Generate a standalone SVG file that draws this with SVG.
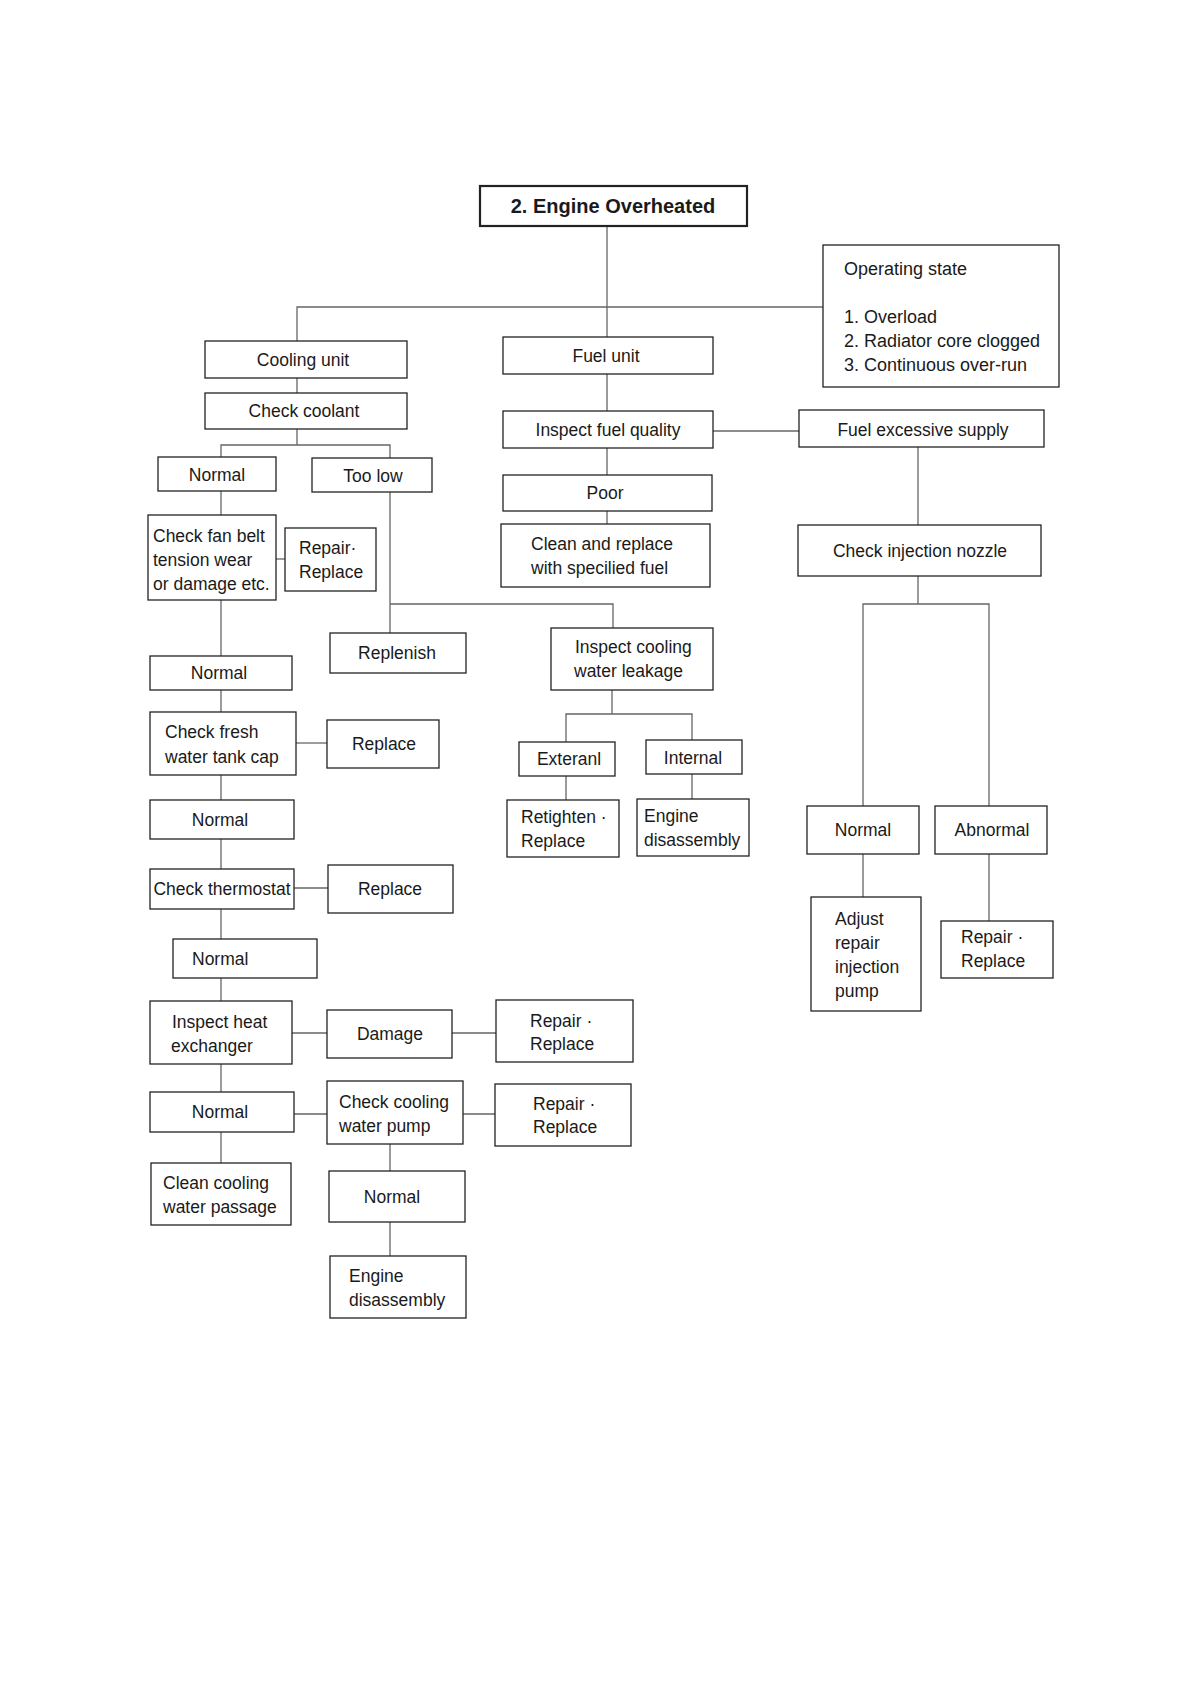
<svg xmlns="http://www.w3.org/2000/svg" width="1190" height="1682" viewBox="0 0 1190 1682">
<style>
rect{fill:#fff;stroke:#222;stroke-width:1.3}
.title rect{stroke-width:2.2}
text{font-family:"Liberation Sans",Arial,Helvetica,sans-serif;font-size:17.5px;fill:#1a1a1a}
.c{text-anchor:middle}
.t{font-size:20px;font-weight:bold}
.op{font-size:18px}
#connectors path{fill:none;stroke:#666;stroke-width:1.3}
</style>
<rect x="0" y="0" width="1190" height="1682" style="fill:#fff;stroke:none"/>
<g id="connectors">
<path d="M607 226V337"/>
<path d="M297 341V307H823"/>
<path d="M297 378V393"/>
<path d="M297 429V445M221 457V445H390V458"/>
<path d="M221 491V515"/>
<path d="M276 559H285"/>
<path d="M390 492V633M390 604H613V628"/>
<path d="M221 600V656"/>
<path d="M221 690V712"/>
<path d="M296 743H327"/>
<path d="M221 775V800"/>
<path d="M221 839V869"/>
<path d="M294 888H328"/>
<path d="M221 909V939"/>
<path d="M221 978V1001"/>
<path d="M292 1033H327M452 1033H496"/>
<path d="M221 1064V1092"/>
<path d="M294 1114H327M463 1114H495"/>
<path d="M221 1132V1163"/>
<path d="M390 1144V1171M390 1222V1256"/>
<path d="M607 374V411M607 448V475M607 511V524"/>
<path d="M713 431H799"/>
<path d="M918 447V525"/>
<path d="M918 576V604M863 806V604H989V806"/>
<path d="M863 854V897M989 854V921"/>
<path d="M612 690V714M566 742V714H692V740"/>
<path d="M566 776V800M692 774V799"/>
</g>
<g id="title" class="title"><rect x="480" y="186" width="267" height="40"/><text class="c t" x="613" y="213">2. Engine Overheated</text></g>
<g id="operating"><rect x="823" y="245" width="236" height="142"/><text class="op" x="844" y="275">Operating state</text><text class="op" x="844" y="323">1. Overload</text><text class="op" x="844" y="347">2. Radiator core clogged</text><text class="op" x="844" y="371">3. Continuous over-run</text></g>
<g id="cooling-unit"><rect x="205" y="341" width="202" height="37"/><text class="c" x="303" y="366">Cooling unit</text></g>
<g id="check-coolant"><rect x="205" y="393" width="202" height="36"/><text class="c" x="304" y="417">Check coolant</text></g>
<g id="normal1"><rect x="158" y="457" width="118" height="34"/><text class="c" x="217" y="481">Normal</text></g>
<g id="too-low"><rect x="312" y="458" width="120" height="34"/><text class="c" x="373" y="482">Too low</text></g>
<g id="fan-belt"><rect x="148" y="515" width="128" height="85"/><text x="153" y="542">Check fan belt</text><text x="153" y="566">tension wear</text><text x="153" y="590">or damage etc.</text></g>
<g id="repair1"><rect x="285" y="528" width="91" height="63"/><text x="299" y="554">Repair·</text><text x="299" y="578">Replace</text></g>
<g id="replenish"><rect x="330" y="633" width="136" height="40"/><text class="c" x="397" y="659">Replenish</text></g>
<g id="normal2"><rect x="150" y="656" width="142" height="34"/><text class="c" x="219" y="679">Normal</text></g>
<g id="tank-cap"><rect x="150" y="712" width="146" height="63"/><text x="165" y="738">Check fresh</text><text x="165" y="763">water tank cap</text></g>
<g id="replace1"><rect x="327" y="720" width="112" height="48"/><text class="c" x="384" y="750">Replace</text></g>
<g id="normal3"><rect x="150" y="800" width="144" height="39"/><text class="c" x="220" y="826">Normal</text></g>
<g id="thermostat"><rect x="150" y="869" width="144" height="40"/><text class="c" x="222" y="895">Check thermostat</text></g>
<g id="replace2"><rect x="328" y="865" width="125" height="48"/><text class="c" x="390" y="895">Replace</text></g>
<g id="normal4"><rect x="173" y="939" width="144" height="39"/><text x="192" y="965">Normal</text></g>
<g id="heat-exchanger"><rect x="150" y="1001" width="142" height="63"/><text x="172" y="1028">Inspect heat</text><text x="171" y="1052">exchanger</text></g>
<g id="damage"><rect x="327" y="1010" width="125" height="48"/><text class="c" x="390" y="1040">Damage</text></g>
<g id="repair2"><rect x="496" y="1000" width="137" height="62"/><text x="530" y="1027">Repair  ·</text><text x="530" y="1050">Replace</text></g>
<g id="normal5"><rect x="150" y="1092" width="144" height="40"/><text class="c" x="220" y="1118">Normal</text></g>
<g id="water-pump"><rect x="327" y="1081" width="136" height="63"/><text x="339" y="1108">Check cooling</text><text x="339" y="1132">water pump</text></g>
<g id="repair3"><rect x="495" y="1084" width="136" height="62"/><text x="533" y="1110">Repair ·</text><text x="533" y="1133">Replace</text></g>
<g id="clean-passage"><rect x="151" y="1163" width="140" height="62"/><text x="163" y="1189">Clean cooling</text><text x="163" y="1213">water passage</text></g>
<g id="normal6"><rect x="329" y="1171" width="136" height="51"/><text class="c" x="392" y="1203">Normal</text></g>
<g id="engine-dis2"><rect x="330" y="1256" width="136" height="62"/><text x="349" y="1282">Engine</text><text x="349" y="1306">disassembly</text></g>
<g id="fuel-unit"><rect x="503" y="337" width="210" height="37"/><text class="c" x="606" y="362">Fuel unit</text></g>
<g id="fuel-quality"><rect x="503" y="411" width="210" height="37"/><text class="c" x="608" y="436">Inspect fuel quality</text></g>
<g id="fuel-excessive"><rect x="799" y="410" width="245" height="37"/><text class="c" x="923" y="436">Fuel excessive supply</text></g>
<g id="poor"><rect x="503" y="475" width="209" height="36"/><text class="c" x="605" y="499">Poor</text></g>
<g id="clean-fuel"><rect x="501" y="524" width="209" height="63"/><text x="531" y="550">Clean and replace</text><text x="531" y="574">with specilied fuel</text></g>
<g id="nozzle"><rect x="798" y="525" width="243" height="51"/><text class="c" x="920" y="557">Check injection nozzle</text></g>
<g id="leakage"><rect x="551" y="628" width="162" height="62"/><text x="575" y="653">Inspect cooling</text><text x="574" y="677">water leakage</text></g>
<g id="external"><rect x="519" y="742" width="96" height="34"/><text class="c" x="569" y="765">Exteranl</text></g>
<g id="internal"><rect x="646" y="740" width="96" height="34"/><text class="c" x="693" y="764">Internal</text></g>
<g id="retighten"><rect x="507" y="800" width="112" height="57"/><text x="521" y="823">Retighten ·</text><text x="521" y="847">Replace</text></g>
<g id="engine-dis1"><rect x="637" y="799" width="112" height="57"/><text x="644" y="822">Engine</text><text x="644" y="846">disassembly</text></g>
<g id="normal-r"><rect x="807" y="806" width="112" height="48"/><text class="c" x="863" y="836">Normal</text></g>
<g id="abnormal"><rect x="935" y="806" width="112" height="48"/><text class="c" x="992" y="836">Abnormal</text></g>
<g id="adjust"><rect x="811" y="897" width="110" height="114"/><text x="835" y="925">Adjust</text><text x="835" y="949">repair</text><text x="835" y="973">injection</text><text x="835" y="997">pump</text></g>
<g id="repair4"><rect x="941" y="921" width="112" height="57"/><text x="961" y="943">Repair ·</text><text x="961" y="967">Replace</text></g>
</svg>
